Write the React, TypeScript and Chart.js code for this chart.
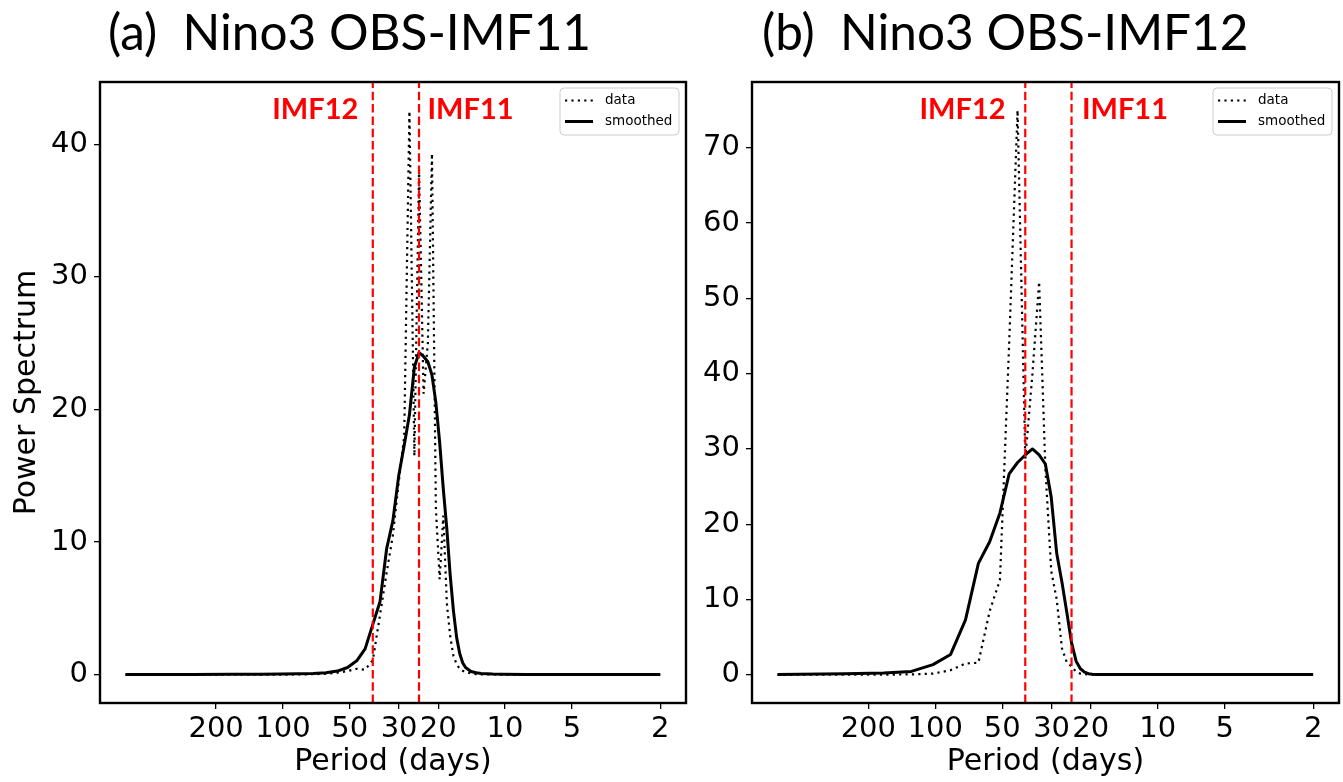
import React, { useEffect, useRef } from "react";
import { Chart, registerables } from "chart.js";

Chart.register(...registerables);

// ---------- data ----------
const N_FFT = 512; // frequency index k -> frequency k / N_FFT (cycles per day)

const freqIndex = [
  1, 2, 3, 4, 5, 6, 7, 8, 9, 10, 11, 12, 13, 14, 15, 16, 17, 18, 19, 20, 21, 22,
  23, 24, 25, 26, 27, 28, 29, 30, 31, 32, 33, 34, 36, 38, 40, 45, 50, 64, 96, 128,
  192, 256,
];

const dataA = [
  0.0, 0.0, 0.0, 0.01, 0.01, 0.02, 0.04, 0.08, 0.15, 0.28, 0.45, 0.38, 1.1, 4.5,
  7.7, 10.5, 14.5, 18.0, 42.5, 16.5, 38.1, 21.2, 25.0, 39.3, 12.5, 7.2, 12.0, 5.4,
  2.9, 1.4, 0.8, 0.45, 0.3, 0.2, 0.1, 0.05, 0.03, 0.02, 0.01, 0.0, 0.0, 0.0, 0.0,
  0.0,
];

const smoothA = [
  0.02, 0.02, 0.03, 0.04, 0.05, 0.07, 0.1, 0.15, 0.28, 0.55, 1.05, 1.95, 3.8, 5.5,
  9.5, 11.6, 15.0, 17.3, 19.6, 23.2, 24.3, 24.0, 23.6, 22.6, 20.5, 17.5, 14.0, 11.0,
  7.5, 4.8, 2.8, 1.6, 0.9, 0.55, 0.25, 0.15, 0.1, 0.05, 0.03, 0.02, 0.01, 0.01,
  0.01, 0.01,
];

const dataB = [
  0.0, 0.0, 0.02, 0.05, 0.15, 0.6, 1.5, 1.6, 8.5, 12.6, 44.0, 75.0, 28.7, 40.0,
  52.2, 27.5, 13.8, 10.0, 3.5, 1.6, 1.1, 0.4, 0.15, 0.08, 0.05, 0.03, 0.02, 0.02,
  0.01, 0.01, 0.01, 0.01, 0.0, 0.0, 0.0, 0.0, 0.0, 0.0, 0.0, 0.0, 0.0, 0.0, 0.0,
  0.0,
];

const smoothB = [
  0.05, 0.12, 0.25, 0.45, 1.35, 2.7, 7.3, 14.8, 17.7, 21.5, 26.7, 28.2, 29.2, 30.0,
  29.2, 28.0, 23.6, 16.1, 12.3, 8.2, 4.2, 1.8, 0.8, 0.35, 0.15, 0.08, 0.05, 0.04,
  0.03, 0.03, 0.02, 0.02, 0.02, 0.02, 0.02, 0.02, 0.02, 0.02, 0.02, 0.02, 0.02,
  0.02, 0.02, 0.02,
];

const periodTicks = [200, 100, 50, 30, 20, 10, 5, 2];
const yTicksA = [0, 10, 20, 30, 40];
const yTicksB = [0, 10, 20, 30, 40, 50, 60, 70];
const imfPeriods = [39.4, 24.4];
const imfLabels = ["IMF12", "IMF11"];
const legendLabels = ["data", "smoothed"];
const titleA = "(a)  Nino3 OBS-IMF11";
const titleB = "(b)  Nino3 OBS-IMF12";
const xTitle = "Period (days)";
const yTitle = "Power Spectrum";

// ---------- styling ----------
const FONT = "'DejaVu Sans', sans-serif";
const TITLE_FONT = "Lato, 'Open Sans', sans-serif";
const X_MIN = 0.0015;
const X_MAX = 0.653;
const DOT = { width: 2.2, dash: [2.2, 4.2] };
const SOLID = { width: 3.0 };

const panels = [
  {
    canvasLeft: 0, width: 700, yAxisWidth: 100, padRight: 14,
    yMin: -2.13, yMax: 44.7, yTicks: yTicksA, data: dataA, smooth: smoothA,
    title: titleA, titleX: 108, gaps: [14.5, 8.5], showYTitle: true,
  },
  {
    canvasLeft: 700, width: 643, yAxisWidth: 52, padRight: 4,
    yMin: -3.75, yMax: 78.75, yTicks: yTicksB, data: dataB, smooth: smoothB,
    title: titleB, titleX: 62, gaps: [19.7, 10.4], showYTitle: false,
  },
];

const HEIGHT = 782;

const decorPlugin = {
  id: "decor",
  afterDatasetsDraw(chart: any, _args: any, o: any) {
    const { ctx, chartArea: ca } = chart;
    const xs = chart.scales.x;
    ctx.save();
    // frame
    ctx.setLineDash([]);
    ctx.strokeStyle = "#000";
    ctx.lineWidth = 2.4;
    ctx.strokeRect(ca.left, ca.top, ca.right - ca.left, ca.bottom - ca.top);

    // IMF labels
    ctx.fillStyle = "#ff0000";
    ctx.font = `bold 29px ${TITLE_FONT}`;
    ctx.textBaseline = "alphabetic";
    const p0 = xs.getPixelForValue(1 / o.imfPeriods[0]);
    const p1 = xs.getPixelForValue(1 / o.imfPeriods[1]);
    ctx.textAlign = "right";
    ctx.fillText(o.imfLabels[0], p0 - o.gaps[0], ca.top + 36.5);
    ctx.textAlign = "left";
    ctx.fillText(o.imfLabels[1], p1 + o.gaps[1], ca.top + 36.5);

    // legend
    const bx = ca.right - 126;
    const by = ca.top + 6;
    const bw = 119;
    const bh = 47;
    ctx.beginPath();
    if (ctx.roundRect) ctx.roundRect(bx, by, bw, bh, 4);
    else ctx.rect(bx, by, bw, bh);
    ctx.fillStyle = "rgba(255,255,255,0.8)";
    ctx.fill();
    ctx.strokeStyle = "#cccccc";
    ctx.lineWidth = 1;
    ctx.stroke();

    const rows = [by + 12.5, by + 33.5];
    // data (dotted)
    ctx.strokeStyle = "#000";
    ctx.lineWidth = DOT.width;
    ctx.setLineDash(DOT.dash);
    ctx.beginPath();
    ctx.moveTo(bx + 5, rows[0]);
    ctx.lineTo(bx + 33, rows[0]);
    ctx.stroke();
    // smoothed (solid)
    ctx.setLineDash([]);
    ctx.lineWidth = SOLID.width;
    ctx.beginPath();
    ctx.moveTo(bx + 5, rows[1]);
    ctx.lineTo(bx + 33, rows[1]);
    ctx.stroke();

    ctx.fillStyle = "#000";
    ctx.font = `13.5px ${FONT}`;
    ctx.textAlign = "left";
    ctx.textBaseline = "middle";
    ctx.fillText(o.legendLabels[0], bx + 45, rows[0]);
    ctx.fillText(o.legendLabels[1], bx + 45, rows[1]);
    ctx.restore();
  },
  afterDraw(chart: any, _args: any, o: any) {
    const { ctx } = chart;
    ctx.save();
    ctx.fillStyle = "#000";
    ctx.font = `49.5px ${TITLE_FONT}`;
    ctx.textAlign = "left";
    ctx.textBaseline = "alphabetic";
    ctx.fillText(o.title, o.titleX, 50);
    ctx.restore();
  },
};

function buildConfig(p: any): any {
  const points = (vals: number[]) =>
    freqIndex.map((k, i) => ({ x: k / N_FFT, y: vals[i] }));
  const vline = (period: number) => [
    { x: 1 / period, y: p.yMin },
    { x: 1 / period, y: p.yMax },
  ];
  return {
    type: "line",
    data: {
      datasets: [
        {
          label: imfLabels[0],
          data: vline(imfPeriods[0]),
          borderColor: "#ff0000",
          borderWidth: 2.2,
          borderDash: [8.5, 3.8],
          pointRadius: 0,
          order: 0,
        },
        {
          label: imfLabels[1],
          data: vline(imfPeriods[1]),
          borderColor: "#ff0000",
          borderWidth: 2.2,
          borderDash: [8.5, 3.8],
          pointRadius: 0,
          order: 0,
        },
        {
          label: legendLabels[1],
          data: points(p.smooth),
          borderColor: "#000",
          borderWidth: SOLID.width,
          borderJoinStyle: "round",
          pointRadius: 0,
          tension: 0,
          order: 1,
        },
        {
          label: legendLabels[0],
          data: points(p.data),
          borderColor: "#000",
          borderWidth: DOT.width,
          borderDash: DOT.dash,
          pointRadius: 0,
          tension: 0,
          order: 2,
        },
      ],
    },
    options: {
      responsive: false,
      animation: false,
      devicePixelRatio: 1,
      events: [],
      layout: { padding: { top: 82, right: p.padRight, left: 0, bottom: 0 } },
      scales: {
        x: {
          type: "logarithmic",
          min: X_MIN,
          max: X_MAX,
          bounds: "data",
          afterBuildTicks: (s: any) => {
            s.ticks = periodTicks.map((pd) => ({ value: 1 / pd }));
          },
          afterFit: (s: any) => {
            s.height = 79;
          },
          ticks: {
            callback: (v: any) => String(Math.round(1 / Number(v))),
            font: { family: FONT, size: 29 },
            color: "#000",
            maxRotation: 0,
            minRotation: 0,
            autoSkip: false,
            padding: 3,
          },
          grid: {
            drawOnChartArea: false,
            drawTicks: true,
            tickLength: 6,
            color: "#000",
            lineWidth: 1.3,
          },
          border: { display: false },
          title: {
            display: true,
            text: xTitle,
            font: { family: FONT, size: 30 },
            color: "#000",
            padding: { top: 0, bottom: 2 },
          },
        },
        y: {
          type: "linear",
          min: p.yMin,
          max: p.yMax,
          bounds: "data",
          afterBuildTicks: (s: any) => {
            s.ticks = p.yTicks.map((v: number) => ({ value: v }));
          },
          afterFit: (s: any) => {
            s.width = p.yAxisWidth;
          },
          ticks: {
            font: { family: FONT, size: 29 },
            color: "#000",
            padding: 6,
          },
          grid: {
            drawOnChartArea: false,
            drawTicks: true,
            tickLength: 6,
            color: "#000",
            lineWidth: 1.3,
          },
          border: { display: false },
          title: {
            display: p.showYTitle,
            text: yTitle,
            font: { family: FONT, size: 30 },
            color: "#000",
            padding: { top: 9, bottom: 0 },
          },
        },
      },
      plugins: {
        legend: { display: false },
        tooltip: { enabled: false },
        title: { display: false },
        decor: {
          imfPeriods,
          imfLabels,
          legendLabels,
          gaps: p.gaps,
          title: p.title,
          titleX: p.titleX,
        },
      },
    },
    plugins: [decorPlugin],
  };
}

export default function App() {
  const refA = useRef<HTMLCanvasElement | null>(null);
  const refB = useRef<HTMLCanvasElement | null>(null);

  useEffect(() => {
    document.body.style.margin = "0";
    document.body.style.background = "#fff";
    const refs = [refA, refB];
    const charts = panels.map((p, i) => new Chart(refs[i].current as HTMLCanvasElement, buildConfig(p)));
    return () => {
      charts.forEach((c) => c.destroy());
    };
  }, []);

  return (
    <div style={{ position: "relative", width: 1343, height: HEIGHT, background: "#fff", overflow: "hidden" }}>
      <canvas
        ref={refA}
        width={panels[0].width}
        height={HEIGHT}
        style={{ position: "absolute", left: panels[0].canvasLeft, top: 0, width: panels[0].width, height: HEIGHT }}
      />
      <canvas
        ref={refB}
        width={panels[1].width}
        height={HEIGHT}
        style={{ position: "absolute", left: panels[1].canvasLeft, top: 0, width: panels[1].width, height: HEIGHT }}
      />
    </div>
  );
}
